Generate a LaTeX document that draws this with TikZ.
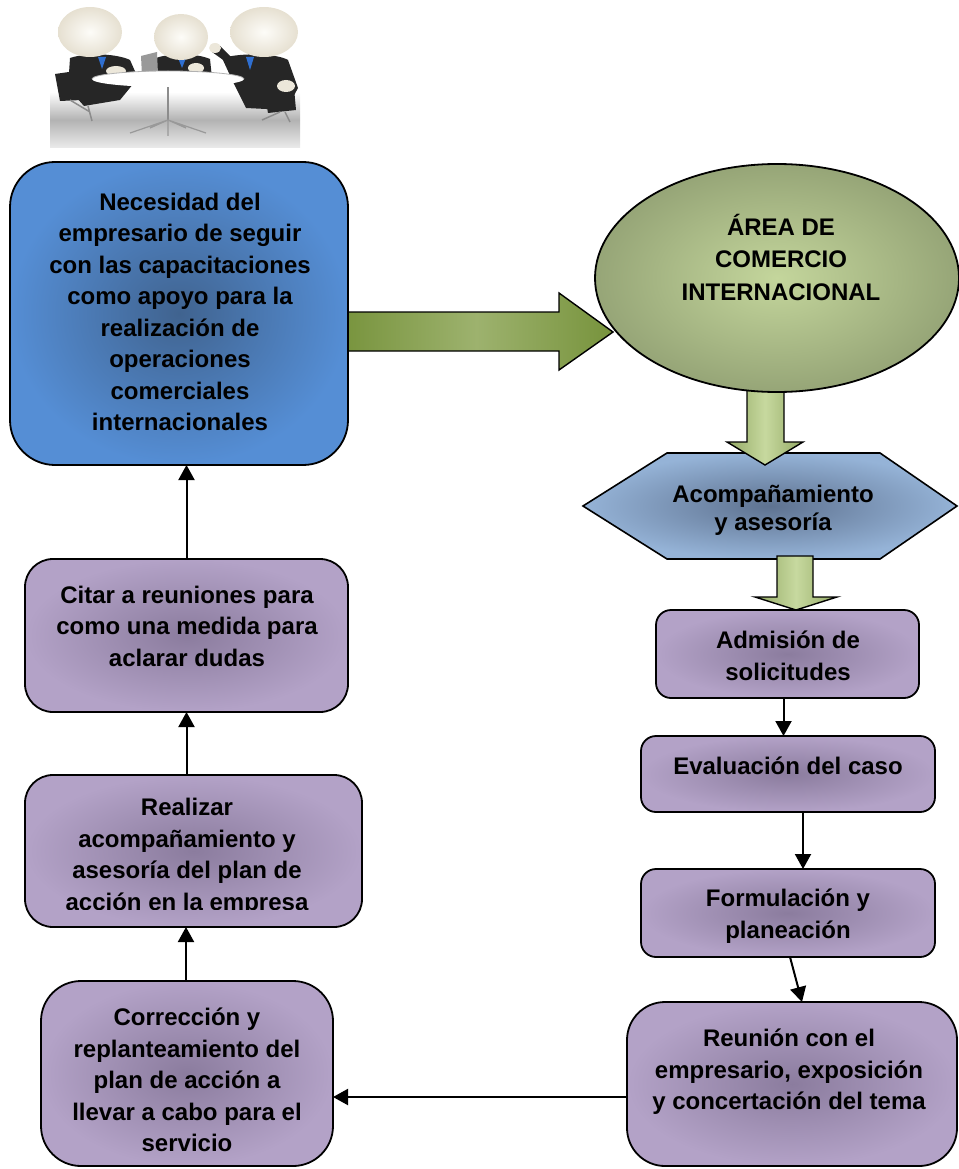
\documentclass[tikz,border=0pt]{standalone}
\usepackage{fontspec}
\setmainfont{Liberation Sans}
\usetikzlibrary{arrows.meta,shapes.geometric}

\definecolor{bluebox}{HTML}{558ED5}
\definecolor{bluecore}{HTML}{40638F}
\definecolor{lilac}{HTML}{B3A2C7}
\definecolor{lilaccore}{HTML}{8B7C9E}
\definecolor{hexblue}{HTML}{95B3D7}
\definecolor{hexcore}{HTML}{5E7290}
\definecolor{olivedark}{HTML}{77933C}
\definecolor{olivelight}{HTML}{9DB26E}
\definecolor{ovalrim}{HTML}{96A577}
\definecolor{ovalcore}{HTML}{C4D69C}
\definecolor{sagedark}{HTML}{93A964}
\definecolor{sagelight}{HTML}{C7D99F}
\definecolor{suit}{HTML}{262626}
\definecolor{skin}{HTML}{ECE7DA}
\definecolor{skinrim}{HTML}{E6E0D1}
\definecolor{skinlight}{HTML}{FDFCF8}
\definecolor{tie}{HTML}{2F6FD0}

\tikzset{
  card/.style={draw=black, line width=1.8pt, inner sep=0pt, outer sep=0pt,
    inner color=lilaccore, outer color=lilac},
  txt/.style={font=\bfseries\fontsize{24}{31.5}\selectfont, align=center, inner sep=0pt},
  conn/.style={line width=2pt, -{Triangle[length=15pt,width=16pt]}},
  bigarrow/.style={draw=black, line width=1.4pt, left color=olivedark,
    right color=olivedark, middle color=olivelight},
  droparrow/.style={draw=black, line width=1.4pt, left color=sagedark,
    right color=sagedark, middle color=sagelight},
  head/.style={inner color=skinlight, outer color=skinrim},
}

\begin{document}
\begin{tikzpicture}[x=1pt, y=-1pt]
\useasboundingbox (0,0) rectangle (958,1169);

% ---------- meeting clip-art ----------
\shade[top color=white, bottom color=black!8, middle color=black!30] (50,92) rectangle (300,148);
% chairs
\fill[suit] (55,74) -- (76,71) -- (82,100) -- (60,101) -- cycle;
\fill[suit] (262,80) -- (293,77) -- (296,110) -- (268,113) -- cycle;
\draw[black!45, line width=1.5pt] (70,100) -- (90,112) (88,106) -- (92,121)
  (280,112) -- (262,120) (285,112) -- (290,122);
% left person
\fill[suit] (70,58) .. controls (88,52) and (118,54) .. (130,60) -- (138,78)
  -- (120,100) -- (84,106) -- (68,88) -- cycle;
\fill[tie] (98,57) -- (106,57) -- (102,69) -- cycle;
\fill[skin] (116,71) ellipse (10 and 5);
% middle person
\fill[suit] (156,58) .. controls (170,53) and (196,53) .. (210,59) -- (212,78) -- (154,78) -- cycle;
\fill[tie] (178,58) -- (186,58) -- (182,68) -- cycle;
\fill[skin] (196,68) ellipse (8 and 5);
% right person
\fill[suit] (222,58) .. controls (245,52) and (278,54) .. (288,60) -- (298,88)
  -- (286,110) -- (246,108) -- (234,84) -- cycle;
\fill[suit] (226,62) -- (212,52) -- (220,46) -- (238,64) -- cycle;
\fill[tie] (246,57) -- (254,57) -- (250,70) -- cycle;
\fill[skin] (215,48) ellipse (6 and 5);
\fill[skin] (286,86) ellipse (9 and 6);
% laptop
\fill[black!40] (141,56) -- (157,52) -- (158,74) -- (142,76) -- cycle;
% table
\draw[black!45, line width=2pt] (168,86) -- (168,120);
\draw[black!40, line width=1.2pt] (168,120) -- (130,133) (168,120) -- (206,133)
  (168,120) -- (150,128) (168,120) -- (186,128) (168,120) -- (168,136);
\fill[white] (168,79) ellipse (76 and 8);
\draw[black!30, line width=0.8pt] (92,79) arc[start angle=180, end angle=360, x radius=76, y radius=8];
% heads
\shade[head] (90,32) ellipse (32 and 25);
\shade[head] (181,37) ellipse (27 and 23);
\shade[head] (264,32) ellipse (34 and 25);

% ---------- right column shapes ----------
\path[draw=black, line width=1.6pt, inner color=hexcore, outer color=hexblue]
  (583,506) -- (667,453) -- (880,453) -- (957,506) -- (880,559) -- (667,559) -- cycle;
\node[txt, font=\bfseries\fontsize{24}{28}\selectfont] (hex) at (773,510) {Acompañamiento\\y asesoría};

\path[droparrow] (777,556) -- (813,556) -- (813,597) -- (837,597) -- (796,610)
  -- (755,597) -- (777,597) -- cycle;
\path[droparrow] (747,388) -- (784,388) -- (784,442) -- (803,442) -- (765,465)
  -- (727,442) -- (747,442) -- cycle;

\path[bigarrow] (340,312) -- (559,312) -- (559,293) -- (613,332) -- (559,370)
  -- (559,351) -- (340,351) -- cycle;

\node[ellipse, draw=black, line width=1.8pt, inner sep=0pt,
  minimum width=364pt, minimum height=228pt,
  inner color=ovalcore, outer color=ovalrim] (area) at (777,278) {};
\node[txt, font=\bfseries\fontsize{24}{32.5}\selectfont] (areatxt) at (781,257)
  {ÁREA DE\\COMERCIO\\INTERNACIONAL};

% ---------- boxes ----------
\node[card, rounded corners=45pt, inner color=bluecore, outer color=bluebox,
  minimum width=338pt, minimum height=303pt] (nec) at (179,313.5) {};
\node[txt] (nectxt) at (180,312) {Necesidad del\\empresario de seguir\\con las capacitaciones\\como apoyo para la\\realización de\\operaciones\\comerciales\\internacionales};

\node[card, rounded corners=28pt, minimum width=323pt, minimum height=153pt] (citar) at (186.5,635.5) {};
\node[txt] (citartxt) at (187,626) {Citar a reuniones para\\como una medida para\\aclarar dudas};

\node[card, rounded corners=28pt, minimum width=337pt, minimum height=152pt] (real) at (193.5,851) {};
\begin{scope}
  \clip (25,775) rectangle (362,909);
  \node[txt] (realtxt) at (187,857) {Realizar\\acompañamiento y\\asesoría del plan de\\acción en la empresa};
\end{scope}

\node[card, rounded corners=40pt, minimum width=292pt, minimum height=185pt] (corr) at (187,1073.5) {};
\node[txt] (corrtxt) at (187,1080) {Corrección y\\replanteamiento del\\plan de acción a\\llevar a cabo para el\\servicio};

\node[card, rounded corners=15pt, minimum width=263pt, minimum height=88pt] (adm) at (787.5,654) {};
\node[txt] (admtxt) at (788,656) {Admisión de\\solicitudes};

\node[card, rounded corners=15pt, minimum width=294pt, minimum height=76pt] (eval) at (788,774) {};
\node[txt] (evaltxt) at (788,766) {Evaluación del caso};

\node[card, rounded corners=15pt, minimum width=294pt, minimum height=88pt] (form) at (788,913) {};
\node[txt] (formtxt) at (788,916) {Formulación y\\planeación};

\node[card, rounded corners=38pt, minimum width=330pt, minimum height=164pt] (reu) at (792,1084) {};
\node[txt] (reutxt) at (789,1072) {Reunión con el\\empresario, exposición\\y concertación del tema};

% ---------- connectors ----------
\coordinate (hy) at (0,1097);
\draw[conn] ([xshift=-4pt]adm.south) -- ([xshift=-4pt]adm.south |- eval.north);
\draw[conn] ([xshift=15pt]eval.south) -- ([xshift=15pt]form.north);
\draw[conn] ([xshift=2pt]form.south) -- ([xshift=10pt]reu.north);
\draw[conn] (reu.west |- hy) -- (corr.east |- hy);
\draw[conn] ([xshift=-1pt]corr.north) -- ([xshift=-1pt]corr.north |- real.south);
\draw[conn] ([xshift=-7pt]real.north) -- ([xshift=-7pt]real.north |- citar.south);
\draw[conn] (citar.north) -- (citar.north |- nec.south);
\end{tikzpicture}
\end{document}
